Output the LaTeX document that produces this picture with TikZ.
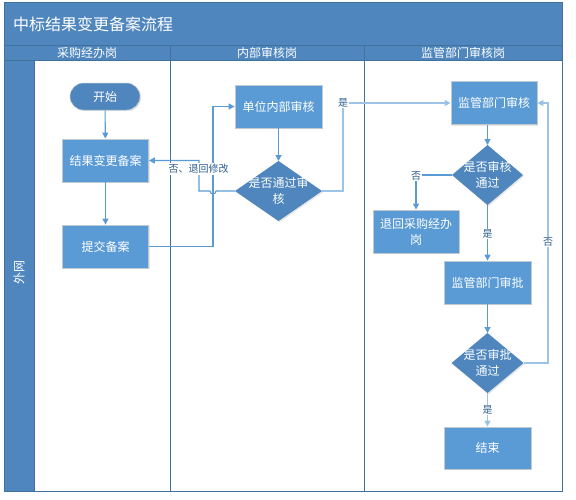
\documentclass[tikz,border=0pt]{standalone}
\usepackage{fontspec}
\setmainfont{Noto Sans CJK SC}
\usetikzlibrary{shapes.geometric,shapes.misc,arrows.meta,shadows}
\definecolor{bandblue}{HTML}{4E86BD}
\definecolor{lineblue}{HTML}{41719C}
\definecolor{boxblue}{HTML}{5B9BD5}
\definecolor{diablue}{HTML}{4E86BD}
\definecolor{conn}{HTML}{5B9BD5}
\definecolor{connlight}{HTML}{9DC3E6}
\definecolor{labtext}{HTML}{2E5E8E}
\definecolor{boxedge}{HTML}{C0C8D0}
\tikzset{
  procbox/.style={rectangle, fill=boxblue, draw=boxedge, line width=0.8pt, text=white,
    minimum width=86pt, minimum height=43pt, inner sep=1pt, align=center,
    font=\fontsize{12}{16}\selectfont,
    drop shadow={opacity=0.2, shadow xshift=1.2pt, shadow yshift=-1.2pt}},
  decide/.style={diamond, fill=diablue, draw=none, inner sep=0pt, outer sep=0pt,
    drop shadow={opacity=0.2, shadow xshift=1.2pt, shadow yshift=-1.2pt}},
  dtext/.style={text=white, align=center, font=\fontsize{12}{16}\selectfont},
  termnode/.style={rounded rectangle, fill=diablue, draw=boxedge, line width=0.5pt, text=white,
    minimum width=72pt, minimum height=27pt, inner sep=1pt, font=\fontsize{12}{16}\selectfont,
    drop shadow={opacity=0.2, shadow xshift=1.2pt, shadow yshift=-1.2pt}},
  flow/.style={draw=conn, line width=1.1pt, -{Triangle[length=6pt,width=6pt]}},
  flowlight/.style={draw=connlight, line width=1.6pt, -{Triangle[length=6pt,width=6pt]}},
  flowarrow/.style={-{Triangle[length=6pt,width=6pt,fill=conn]}},
  lab/.style={fill=white, text=labtext, inner sep=1pt, font=\fontsize{10}{12}\selectfont},
  hdr/.style={text=white, font=\fontsize{12}{14}\selectfont, inner sep=0pt},
}
\begin{document}
\begin{tikzpicture}[x=1pt, y=-1pt]
\useasboundingbox (0,0) rectangle (576,499);
% frame and bands
\fill[bandblue] (4,2) rectangle (562,60);
\fill[bandblue] (4,60) rectangle (34,491);
\draw[lineblue, line width=0.9pt] (4,2) rectangle (562,491);
\draw[lineblue, line width=0.9pt] (4,45) -- (562,45);
\draw[lineblue, line width=0.9pt] (4,60) -- (562,60);
\draw[lineblue, line width=0.9pt] (34,60) -- (34,491);
\draw[lineblue, line width=0.9pt] (170,45) -- (170,491);
\draw[lineblue, line width=0.9pt] (364,45) -- (364,491);
\node[anchor=west, text=white, font=\fontsize{16}{18}\selectfont, inner sep=0pt] (title) at (13,24) {中标结果变更备案流程};
\node[hdr] (h1) at (87,52.5) {采购经办岗};
\node[hdr] (h2) at (267,52.5) {内部审核岗};
\node[hdr] (h3) at (463,52.5) {监管部门审核岗};
\node[hdr, rotate=90] (lane) at (19,272) {外网};
% nodes
\node[termnode] (start) at (105,96.5) {开始};
\node[procbox] (jg) at (105.5,160.5) {结果变更备案};
\node[procbox] (tj) at (105.5,246.5) {提交备案};
\node[procbox, minimum width=87pt] (dw) at (278.5,106.5) {单位内部审核};
\node[decide, minimum width=87pt, minimum height=60pt,
  label={[dtext]center:是否通过审\\核}] (sf) at (278.5,191) {};
\node[procbox] (jd) at (494,103) {监管部门审核};
\node[decide, minimum width=71pt, minimum height=60pt,
  label={[dtext]center:是否审核\\通过}] (sh) at (487.5,175) {};
\node[procbox] (th) at (416,231.5) {退回采购经办\\岗};
\node[procbox, minimum width=87pt] (jp) at (487.5,282.5) {监管部门审批};
\node[decide, minimum width=72pt, minimum height=60pt,
  label={[dtext]center:是否审批\\通过}] (sp) at (487.5,363) {};
\node[procbox, minimum width=87pt, minimum height=42pt] (end) at (487.5,448) {结束};
% connectors
\draw[flow] (start) -- (jg);
\draw[flow] (jg) -- (tj);
\draw[flow] (tj.east) -| (213,191) |- (dw.west);
\draw[flow] (dw) -- (sf);
\draw[flow] (sf.west) -- (216,191) arc[start angle=0, end angle=-180, radius=3pt] -- (199,191) |- (jg.east);
\node[lab] (lno1) at (198.5,169) {否、退回修改};
\coordinate (c2) at (343,103);
\draw[flowlight, flowarrow] (sf.east) -| (c2) -- (jd.west);
\node[lab] (lyes1) at (c2) {是};
\draw[flow] (sh.north |- jd.south) -- (sh.north);
\draw[flow] (sh.west) -| (th.north);
\node[lab] (lno2) at (416,176) {否};
\draw[flow] (sh.south) -- (jp.north);
\node[lab] (lyes2) at (487.5,234) {是};
\draw[flow] (jp) -- (sp);
\draw[flowlight, flowarrow] (sp.south) -- (end.north);
\node[lab] (lyes3) at (487.5,410) {是};
\draw[flowlight, flowarrow] (sp.east) -- (548,363) |- (jd.east);
\node[lab] (lno3) at (548,242) {否};
\end{tikzpicture}
\end{document}
